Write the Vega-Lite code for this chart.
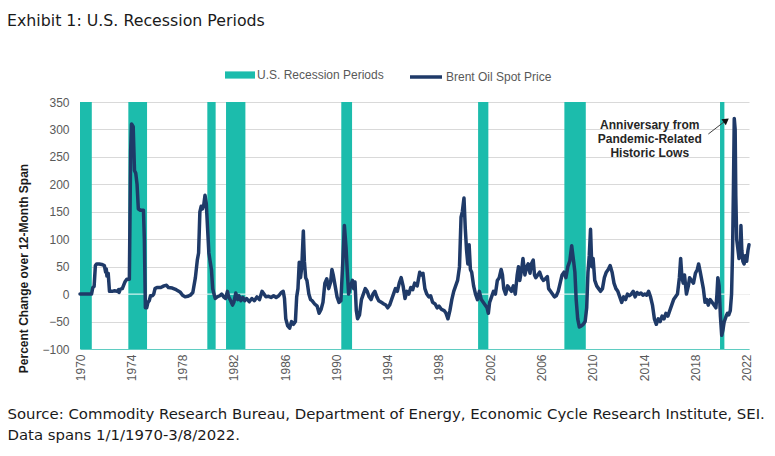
{
  "$schema": "https://vega.github.io/schema/vega-lite/v6.json",
  "width": 669,
  "height": 247,
  "autosize": {"type": "none"},
  "padding": {"left": 80, "top": 102, "right": 26, "bottom": 107},
  "background": "white",
  "title": {
    "text": "Exhibit 1: U.S. Recession Periods",
    "anchor": "start",
    "frame": "group",
    "dx": -73,
    "dy": 1,
    "offset": 30,
    "font": "DejaVu Sans",
    "fontSize": 15.8,
    "fontWeight": "normal",
    "color": "#1a1a1a"
  },
  "config": {"view": {"stroke": null}},
  "datasets": {
    "recessions": [
      {"start": 1970.0, "end": 1970.92},
      {"start": 1973.77, "end": 1975.23},
      {"start": 1979.93, "end": 1980.58},
      {"start": 1981.39, "end": 1982.9},
      {"start": 1990.38, "end": 1991.22},
      {"start": 2001.05, "end": 2001.85},
      {"start": 2007.78, "end": 2009.45},
      {"start": 2019.92, "end": 2020.26}
    ],
    "brent": [
      {"t": 1970.0, "v": 0}, {"t": 1970.5, "v": 0}, {"t": 1970.9, "v": 0}, {"t": 1971.0, "v": 12},
      {"t": 1971.1, "v": 14}, {"t": 1971.2, "v": 52}, {"t": 1971.3, "v": 55}, {"t": 1971.5, "v": 55},
      {"t": 1971.7, "v": 54}, {"t": 1971.9, "v": 52}, {"t": 1972.0, "v": 40}, {"t": 1972.05, "v": 46},
      {"t": 1972.1, "v": 33}, {"t": 1972.2, "v": 38}, {"t": 1972.3, "v": 5}, {"t": 1972.5, "v": 5},
      {"t": 1972.7, "v": 6}, {"t": 1972.9, "v": 5}, {"t": 1973.0, "v": 8}, {"t": 1973.05, "v": 3},
      {"t": 1973.15, "v": 9}, {"t": 1973.3, "v": 10}, {"t": 1973.5, "v": 22}, {"t": 1973.65, "v": 27},
      {"t": 1973.85, "v": 27}, {"t": 1973.95, "v": 260}, {"t": 1974.02, "v": 310}, {"t": 1974.15, "v": 305},
      {"t": 1974.25, "v": 225}, {"t": 1974.35, "v": 220}, {"t": 1974.45, "v": 200}, {"t": 1974.55, "v": 155},
      {"t": 1974.7, "v": 153}, {"t": 1974.95, "v": 153}, {"t": 1975.02, "v": 100}, {"t": 1975.1, "v": -25},
      {"t": 1975.2, "v": -25}, {"t": 1975.3, "v": -15}, {"t": 1975.4, "v": -12}, {"t": 1975.5, "v": -3},
      {"t": 1975.65, "v": -3}, {"t": 1975.75, "v": 0}, {"t": 1975.85, "v": 10}, {"t": 1976.0, "v": 12},
      {"t": 1976.3, "v": 12}, {"t": 1976.55, "v": 15}, {"t": 1976.75, "v": 16}, {"t": 1976.9, "v": 12},
      {"t": 1977.2, "v": 11}, {"t": 1977.5, "v": 8}, {"t": 1977.8, "v": 4}, {"t": 1978.0, "v": -2},
      {"t": 1978.2, "v": -5}, {"t": 1978.4, "v": -4}, {"t": 1978.6, "v": -2}, {"t": 1978.8, "v": 3},
      {"t": 1979.0, "v": 30}, {"t": 1979.15, "v": 62}, {"t": 1979.25, "v": 75}, {"t": 1979.35, "v": 150},
      {"t": 1979.45, "v": 160}, {"t": 1979.55, "v": 155}, {"t": 1979.65, "v": 162}, {"t": 1979.75, "v": 180},
      {"t": 1979.85, "v": 165}, {"t": 1979.95, "v": 120}, {"t": 1980.05, "v": 75}, {"t": 1980.15, "v": 60},
      {"t": 1980.25, "v": 45}, {"t": 1980.35, "v": 10}, {"t": 1980.45, "v": 0}, {"t": 1980.55, "v": -8},
      {"t": 1980.7, "v": -5}, {"t": 1980.9, "v": -3}, {"t": 1981.05, "v": 0}, {"t": 1981.2, "v": -5},
      {"t": 1981.35, "v": -8}, {"t": 1981.5, "v": 5}, {"t": 1981.6, "v": -5}, {"t": 1981.75, "v": -12},
      {"t": 1981.9, "v": -20}, {"t": 1982.0, "v": -15}, {"t": 1982.15, "v": 2}, {"t": 1982.3, "v": -10},
      {"t": 1982.4, "v": -3}, {"t": 1982.55, "v": -12}, {"t": 1982.7, "v": -6}, {"t": 1982.85, "v": -12},
      {"t": 1983.0, "v": -8}, {"t": 1983.2, "v": -14}, {"t": 1983.4, "v": -8}, {"t": 1983.6, "v": -12},
      {"t": 1983.8, "v": -5}, {"t": 1984.0, "v": -10}, {"t": 1984.2, "v": 5}, {"t": 1984.35, "v": 0},
      {"t": 1984.5, "v": -5}, {"t": 1984.7, "v": -4}, {"t": 1984.9, "v": -6}, {"t": 1985.1, "v": -3},
      {"t": 1985.3, "v": -6}, {"t": 1985.5, "v": -3}, {"t": 1985.7, "v": 3}, {"t": 1985.85, "v": 5},
      {"t": 1985.95, "v": -8}, {"t": 1986.05, "v": -45}, {"t": 1986.2, "v": -58}, {"t": 1986.35, "v": -62},
      {"t": 1986.5, "v": -50}, {"t": 1986.65, "v": -55}, {"t": 1986.8, "v": -50}, {"t": 1986.9, "v": -5},
      {"t": 1987.0, "v": 10}, {"t": 1987.1, "v": 58}, {"t": 1987.2, "v": 30}, {"t": 1987.3, "v": 50},
      {"t": 1987.42, "v": 115}, {"t": 1987.5, "v": 60}, {"t": 1987.6, "v": 30}, {"t": 1987.7, "v": 25},
      {"t": 1987.85, "v": 0}, {"t": 1987.98, "v": -10}, {"t": 1988.1, "v": -12}, {"t": 1988.3, "v": -18},
      {"t": 1988.5, "v": -22}, {"t": 1988.65, "v": -35}, {"t": 1988.8, "v": -28}, {"t": 1988.95, "v": -15},
      {"t": 1989.1, "v": 20}, {"t": 1989.25, "v": 28}, {"t": 1989.4, "v": 10}, {"t": 1989.55, "v": 22},
      {"t": 1989.65, "v": 45}, {"t": 1989.75, "v": 35}, {"t": 1989.9, "v": 15}, {"t": 1990.05, "v": -5},
      {"t": 1990.2, "v": -15}, {"t": 1990.35, "v": -12}, {"t": 1990.5, "v": 60}, {"t": 1990.62, "v": 125},
      {"t": 1990.75, "v": 85}, {"t": 1990.85, "v": 40}, {"t": 1990.95, "v": 0}, {"t": 1991.1, "v": 15},
      {"t": 1991.25, "v": 25}, {"t": 1991.35, "v": 10}, {"t": 1991.45, "v": 22}, {"t": 1991.55, "v": -30},
      {"t": 1991.65, "v": -45}, {"t": 1991.8, "v": -38}, {"t": 1991.95, "v": -10}, {"t": 1992.1, "v": 0},
      {"t": 1992.25, "v": 10}, {"t": 1992.4, "v": 5}, {"t": 1992.55, "v": -5}, {"t": 1992.7, "v": -10},
      {"t": 1992.85, "v": 0}, {"t": 1993.0, "v": 5}, {"t": 1993.15, "v": -5}, {"t": 1993.3, "v": -12},
      {"t": 1993.5, "v": -15}, {"t": 1993.7, "v": -18}, {"t": 1993.85, "v": -20}, {"t": 1994.0, "v": -25},
      {"t": 1994.15, "v": -20}, {"t": 1994.3, "v": -10}, {"t": 1994.45, "v": 0}, {"t": 1994.6, "v": 10},
      {"t": 1994.75, "v": 5}, {"t": 1994.9, "v": 20}, {"t": 1995.05, "v": 30}, {"t": 1995.2, "v": 15},
      {"t": 1995.35, "v": -8}, {"t": 1995.5, "v": 5}, {"t": 1995.65, "v": 0}, {"t": 1995.8, "v": 12},
      {"t": 1995.95, "v": 8}, {"t": 1996.1, "v": 20}, {"t": 1996.3, "v": 15}, {"t": 1996.5, "v": 40},
      {"t": 1996.6, "v": 35}, {"t": 1996.75, "v": 38}, {"t": 1996.9, "v": 10}, {"t": 1997.05, "v": 0},
      {"t": 1997.2, "v": -5}, {"t": 1997.35, "v": -3}, {"t": 1997.5, "v": -15}, {"t": 1997.7, "v": -18},
      {"t": 1997.85, "v": -25}, {"t": 1998.0, "v": -22}, {"t": 1998.2, "v": -28}, {"t": 1998.4, "v": -30},
      {"t": 1998.55, "v": -35}, {"t": 1998.7, "v": -45}, {"t": 1998.85, "v": -30}, {"t": 1999.0, "v": -10},
      {"t": 1999.15, "v": 5}, {"t": 1999.3, "v": 15}, {"t": 1999.45, "v": 25}, {"t": 1999.6, "v": 50},
      {"t": 1999.72, "v": 140}, {"t": 1999.82, "v": 150}, {"t": 1999.95, "v": 175}, {"t": 2000.05, "v": 120},
      {"t": 2000.15, "v": 80}, {"t": 2000.25, "v": 55}, {"t": 2000.35, "v": 90}, {"t": 2000.45, "v": 45},
      {"t": 2000.55, "v": 40}, {"t": 2000.7, "v": 15}, {"t": 2000.85, "v": 0}, {"t": 2001.0, "v": -10},
      {"t": 2001.15, "v": 5}, {"t": 2001.3, "v": -10}, {"t": 2001.45, "v": -15}, {"t": 2001.6, "v": -20},
      {"t": 2001.75, "v": -25}, {"t": 2001.85, "v": -35}, {"t": 2001.95, "v": -15}, {"t": 2002.1, "v": -5},
      {"t": 2002.25, "v": 5}, {"t": 2002.4, "v": 0}, {"t": 2002.55, "v": 25}, {"t": 2002.7, "v": 30},
      {"t": 2002.85, "v": 45}, {"t": 2002.95, "v": 35}, {"t": 2003.05, "v": 10}, {"t": 2003.2, "v": 0},
      {"t": 2003.35, "v": 15}, {"t": 2003.5, "v": 10}, {"t": 2003.65, "v": 5}, {"t": 2003.8, "v": 15},
      {"t": 2003.95, "v": 0}, {"t": 2004.1, "v": 35}, {"t": 2004.2, "v": 50}, {"t": 2004.3, "v": 25},
      {"t": 2004.45, "v": 45}, {"t": 2004.55, "v": 65}, {"t": 2004.7, "v": 35}, {"t": 2004.85, "v": 50},
      {"t": 2004.95, "v": 55}, {"t": 2005.1, "v": 38}, {"t": 2005.2, "v": 55}, {"t": 2005.35, "v": 62},
      {"t": 2005.45, "v": 35}, {"t": 2005.55, "v": 30}, {"t": 2005.7, "v": 35}, {"t": 2005.85, "v": 40},
      {"t": 2006.0, "v": 30}, {"t": 2006.15, "v": 25}, {"t": 2006.3, "v": 28}, {"t": 2006.45, "v": 32},
      {"t": 2006.55, "v": 10}, {"t": 2006.7, "v": 5}, {"t": 2006.85, "v": 0}, {"t": 2007.0, "v": -5},
      {"t": 2007.15, "v": -3}, {"t": 2007.3, "v": 5}, {"t": 2007.45, "v": 20}, {"t": 2007.6, "v": 35},
      {"t": 2007.75, "v": 40}, {"t": 2007.9, "v": 30}, {"t": 2008.05, "v": 50}, {"t": 2008.2, "v": 60},
      {"t": 2008.35, "v": 88}, {"t": 2008.5, "v": 60}, {"t": 2008.6, "v": 40}, {"t": 2008.7, "v": -10},
      {"t": 2008.82, "v": -45}, {"t": 2008.95, "v": -60}, {"t": 2009.1, "v": -58}, {"t": 2009.25, "v": -55},
      {"t": 2009.4, "v": -50}, {"t": 2009.52, "v": -25}, {"t": 2009.62, "v": 40}, {"t": 2009.72, "v": 70},
      {"t": 2009.82, "v": 118}, {"t": 2009.92, "v": 50}, {"t": 2010.02, "v": 65}, {"t": 2010.15, "v": 25},
      {"t": 2010.3, "v": 15}, {"t": 2010.45, "v": 10}, {"t": 2010.6, "v": 5}, {"t": 2010.75, "v": 10},
      {"t": 2010.9, "v": 30}, {"t": 2011.05, "v": 40}, {"t": 2011.2, "v": 45}, {"t": 2011.35, "v": 52},
      {"t": 2011.5, "v": 40}, {"t": 2011.65, "v": 20}, {"t": 2011.8, "v": 10}, {"t": 2011.95, "v": 5},
      {"t": 2012.1, "v": -5}, {"t": 2012.25, "v": -15}, {"t": 2012.4, "v": -5}, {"t": 2012.55, "v": -10},
      {"t": 2012.7, "v": 0}, {"t": 2012.85, "v": -3}, {"t": 2013.0, "v": 0}, {"t": 2013.15, "v": 5},
      {"t": 2013.3, "v": -5}, {"t": 2013.45, "v": 3}, {"t": 2013.6, "v": 0}, {"t": 2013.75, "v": 2},
      {"t": 2013.9, "v": -2}, {"t": 2014.05, "v": 0}, {"t": 2014.2, "v": -2}, {"t": 2014.35, "v": 5},
      {"t": 2014.5, "v": -5}, {"t": 2014.65, "v": -20}, {"t": 2014.8, "v": -45}, {"t": 2014.95, "v": -55},
      {"t": 2015.1, "v": -45}, {"t": 2015.25, "v": -50}, {"t": 2015.4, "v": -40}, {"t": 2015.55, "v": -45},
      {"t": 2015.7, "v": -35}, {"t": 2015.85, "v": -40}, {"t": 2016.0, "v": -30}, {"t": 2016.15, "v": -20},
      {"t": 2016.3, "v": -10}, {"t": 2016.45, "v": -5}, {"t": 2016.6, "v": 0}, {"t": 2016.75, "v": 30},
      {"t": 2016.85, "v": 65}, {"t": 2016.95, "v": 30}, {"t": 2017.05, "v": 20}, {"t": 2017.15, "v": 35},
      {"t": 2017.3, "v": 0}, {"t": 2017.45, "v": 15}, {"t": 2017.55, "v": 30}, {"t": 2017.7, "v": 25},
      {"t": 2017.85, "v": 20}, {"t": 2018.0, "v": 38}, {"t": 2018.15, "v": 45}, {"t": 2018.25, "v": 55},
      {"t": 2018.38, "v": 40}, {"t": 2018.5, "v": 25}, {"t": 2018.62, "v": 10}, {"t": 2018.75, "v": -15},
      {"t": 2018.88, "v": -10}, {"t": 2019.0, "v": -20}, {"t": 2019.15, "v": -10}, {"t": 2019.3, "v": -15},
      {"t": 2019.45, "v": -20}, {"t": 2019.6, "v": -25}, {"t": 2019.68, "v": 0}, {"t": 2019.75, "v": 30},
      {"t": 2019.85, "v": 15}, {"t": 2019.95, "v": -40}, {"t": 2020.05, "v": -75}, {"t": 2020.15, "v": -65},
      {"t": 2020.25, "v": -50}, {"t": 2020.4, "v": -40}, {"t": 2020.5, "v": -35}, {"t": 2020.6, "v": -38},
      {"t": 2020.72, "v": -30}, {"t": 2020.82, "v": 0}, {"t": 2020.9, "v": 80}, {"t": 2020.97, "v": 200},
      {"t": 2021.03, "v": 320}, {"t": 2021.1, "v": 300}, {"t": 2021.15, "v": 180}, {"t": 2021.22, "v": 100},
      {"t": 2021.3, "v": 85}, {"t": 2021.4, "v": 65}, {"t": 2021.5, "v": 70}, {"t": 2021.55, "v": 125},
      {"t": 2021.62, "v": 80}, {"t": 2021.7, "v": 60}, {"t": 2021.8, "v": 55}, {"t": 2021.9, "v": 70},
      {"t": 2022.0, "v": 60}, {"t": 2022.1, "v": 80}, {"t": 2022.18, "v": 90}
    ],
    "note": [
      {"t": 2014.44, "v": 308.6, "label": "Anniversary from|Pandemic-Related|Historic Lows"}
    ],
    "arrow": [
      {"t": 2019.01, "v": 291.7, "t2": 2020.3, "v2": 315}
    ],
    "arrowhead": [
      {"t": 2020.4, "v": 316.5}
    ]
  },
  "layer": [
    {
      "data": {"name": "recessions"},
      "mark": {"type": "rect"},
      "encoding": {
        "x": {
          "field": "start",
          "type": "quantitative",
          "scale": {"domain": [1970, 2022.18], "nice": false, "zero": false},
          "axis": {
            "values": [1970, 1974, 1978, 1982, 1986, 1990, 1994, 1998, 2002, 2006, 2010, 2014, 2018, 2022],
            "tickCount": 20,
            "format": "d",
            "labelAngle": -90,
            "labelFlush": false,
            "labelOverlap": false,
            "labelPadding": 5,
            "labelFont": "Liberation Sans",
            "labelFontSize": 12,
            "labelColor": "#595959",
            "ticks": false,
            "grid": false,
            "domain": true,
            "domainColor": "#5FCDC2",
            "domainWidth": 1,
            "title": ["Source: Commodity Research Bureau, Department of Energy, Economic Cycle Research Institute, SEI.", "Data spans 1/1/1970-3/8/2022."],
            "titleAngle": 0,
            "titleAlign": "left",
            "titleBaseline": "top",
            "titleX": -73,
            "titleY": 57,
            "titleFont": "DejaVu Sans",
            "titleFontSize": 14.9,
            "titleFontWeight": "normal",
            "titleColor": "#1a1a1a",
            "titleLineHeight": 21
          }
        },
        "x2": {"field": "end"},
        "fill": {
          "datum": "U.S. Recession Periods",
          "type": "nominal",
          "scale": {"range": ["#1CBCAC"]},
          "legend": {
            "orient": "none",
            "legendX": 145,
            "legendY": -42,
            "title": null,
            "padding": 0,
            "symbolType": "M-1,-0.24H1V0.24H-1Z",
            "symbolSize": 900,
            "symbolStrokeWidth": 0,
            "labelOffset": 2,
            "labelFont": "Liberation Sans",
            "labelFontSize": 12,
            "labelColor": "#595959"
          }
        }
      }
    },
    {
      "data": {"values": [{"v": 0}]},
      "mark": {"type": "rule", "color": "white", "strokeWidth": 1},
      "encoding": {
        "y": {
          "field": "v",
          "type": "quantitative",
          "scale": {"domain": [-100, 350], "nice": false, "zero": false},
          "axis": {
            "values": [-100, -50, 0, 50, 100, 150, 200, 250, 300, 350],
            "tickCount": 20,
            "grid": true,
            "gridColor": "#D9D9D9",
            "gridWidth": 1,
            "domain": false,
            "ticks": false,
            "labelPadding": 11,
            "labelOverlap": false,
            "labelFont": "Liberation Sans",
            "labelFontSize": 12,
            "labelColor": "#595959",
            "title": "Percent Change over 12-Month Span",
            "titleFont": "Liberation Sans",
            "titleFontSize": 12,
            "titleFontWeight": "bold",
            "titleColor": "#1a1a1a",
            "titleAngle": -90,
            "titleX": -57,
            "titleY": 166,
            "titleAlign": "center",
            "titleBaseline": "middle"
          }
        }
      }
    },
    {
      "data": {"name": "brent"},
      "mark": {"type": "line", "strokeWidth": 3.5, "strokeJoin": "round", "strokeCap": "round"},
      "encoding": {
        "x": {"field": "t", "type": "quantitative"},
        "y": {"field": "v", "type": "quantitative"},
        "stroke": {
          "datum": "Brent Oil Spot Price",
          "type": "nominal",
          "scale": {"range": ["#1F3A68"]},
          "legend": {
            "orient": "none",
            "legendX": 328,
            "legendY": -43,
            "title": null,
            "padding": 0,
            "symbolType": "stroke",
            "symbolSize": 1024,
            "symbolStrokeWidth": 3.5,
            "labelOffset": 2,
            "labelFont": "Liberation Sans",
            "labelFontSize": 12,
            "labelColor": "#595959"
          }
        }
      }
    },
    {
      "data": {"name": "arrow"},
      "mark": {"type": "rule", "color": "#404040", "strokeWidth": 1},
      "encoding": {
        "x": {"field": "t", "type": "quantitative"},
        "y": {"field": "v", "type": "quantitative"},
        "x2": {"field": "t2"},
        "y2": {"field": "v2"}
      }
    },
    {
      "data": {"name": "arrowhead"},
      "mark": {"type": "point", "shape": "triangle-up", "angle": 53, "size": 55, "filled": true, "color": "#111111", "opacity": 1},
      "encoding": {
        "x": {"field": "t", "type": "quantitative"},
        "y": {"field": "v", "type": "quantitative"}
      }
    },
    {
      "data": {"name": "note"},
      "mark": {
        "type": "text",
        "lineBreak": "|",
        "lineHeight": 14,
        "align": "center",
        "baseline": "middle",
        "font": "Liberation Sans",
        "fontSize": 12,
        "fontWeight": "bold",
        "color": "#262626"
      },
      "encoding": {
        "x": {"field": "t", "type": "quantitative"},
        "y": {"field": "v", "type": "quantitative"},
        "text": {"field": "label"}
      }
    }
  ]
}
